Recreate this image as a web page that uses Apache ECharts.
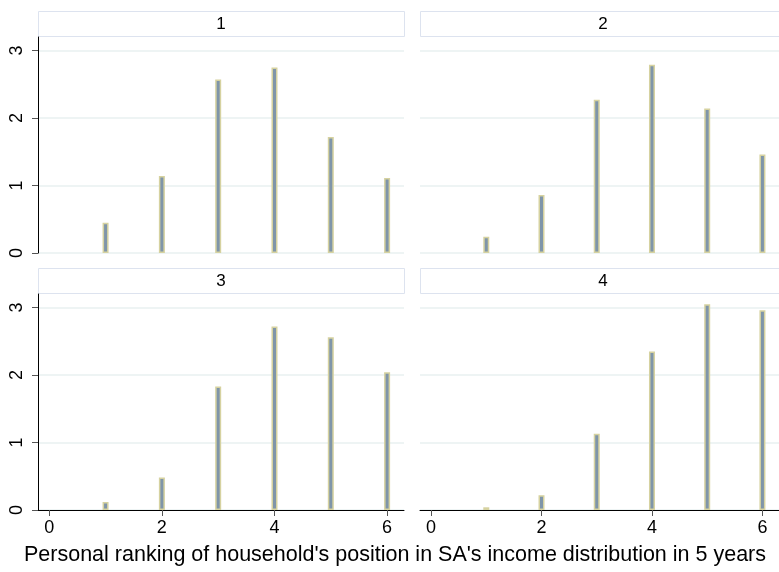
<!DOCTYPE html>
<html>
<head>
<meta charset="utf-8">
<script src="https://cdn.jsdelivr.net/npm/echarts@6/dist/echarts.min.js"></script>
<style>
html,body{margin:0;padding:0;background:#fff;}
#chart{width:779px;height:572px;}
</style>
</head>
<body>
<div id="chart"></div>
<script>
var categories = [1, 2, 3, 4, 5, 6];
var panel1 = [0.45, 1.14, 2.57, 2.75, 1.72, 1.11];
var panel2 = [0.24, 0.86, 2.27, 2.79, 2.14, 1.46];
var panel3 = [0.12, 0.48, 1.83, 2.72, 2.56, 2.04];
var panel4 = [0.04, 0.22, 1.13, 2.35, 3.05, 2.96];
var panelLabels = ['1', '2', '3', '4'];
var xTicks = [0, 2, 4, 6];
var yTicks = [0, 1, 2, 3];
var xTitle = "Personal ranking of household's position in SA's income distribution in 5 years";

var FONT = 'Liberation Sans, Arial, sans-serif';
var panels = [panel1, panel2, panel3, panel4];
var layout = [
  {left: 38, top: 37},
  {left: 420, top: 37},
  {left: 38, top: 294},
  {left: 420, top: 294}
];
var W = 366, H = 216;

var grids = [], xAxes = [], yAxes = [], series = [], graphics = [];
panels.forEach(function (vals, i) {
  var L = layout[i];
  var bottomRow = i >= 2, leftCol = (i % 2) === 0;
  grids.push({left: L.left, top: L.top, width: W, height: H, containLabel: false});
  xAxes.push({
    type: 'value', gridIndex: i, min: -0.2, max: 6.3,
    axisLine: {show: bottomRow, onZero: false, lineStyle: {color: '#000', width: 1}},
    axisTick: {show: bottomRow, length: 6, customValues: xTicks, lineStyle: {color: '#555'}},
    axisLabel: {show: bottomRow, customValues: xTicks, margin: 9, color: '#000', fontSize: 18, fontFamily: FONT},
    splitLine: {show: false}
  });
  yAxes.push({
    type: 'value', gridIndex: i, min: 0, max: 3.2, interval: 1,
    axisLine: {show: leftCol, onZero: false, lineStyle: {color: '#000', width: 1}},
    axisTick: {show: leftCol, length: 6, customValues: yTicks, lineStyle: {color: '#555'}},
    axisLabel: {show: leftCol, customValues: yTicks, rotate: 90, margin: 12, color: '#000', fontSize: 18, fontFamily: FONT},
    splitLine: {show: true, lineStyle: {color: '#e9f0f1', width: 1.5}}
  });
  series.push({
    type: 'bar', xAxisIndex: i, yAxisIndex: i,
    data: categories.map(function (c, k) { return [c, vals[k]]; }),
    barWidth: 6,
    itemStyle: {color: '#7f95a9', borderColor: '#d6d2a0', borderWidth: 1.5},
    silent: true, animation: false
  });
  graphics.push({
    type: 'rect',
    shape: {x: L.left + 0.5, y: L.top - 26 + 0.5, width: W, height: 25},
    style: {fill: '#ffffff', stroke: '#dde3ef', lineWidth: 1}
  });
  graphics.push({
    type: 'text',
    x: L.left + W / 2, y: L.top - 13,
    style: {text: panelLabels[i], fill: '#000', font: '17px ' + FONT, textAlign: 'center', textVerticalAlign: 'middle'}
  });
});

graphics.push({
  type: 'text',
  x: 395, y: 555,
  style: {text: xTitle, fill: '#000', font: '21.5px ' + FONT, textAlign: 'center', textVerticalAlign: 'middle'}
});

var chart = echarts.init(document.getElementById('chart'), null, {renderer: 'canvas'});
chart.setOption({
  animation: false,
  backgroundColor: '#ffffff',
  grid: grids,
  xAxis: xAxes,
  yAxis: yAxes,
  series: series,
  graphic: graphics
});
</script>
</body>
</html>
